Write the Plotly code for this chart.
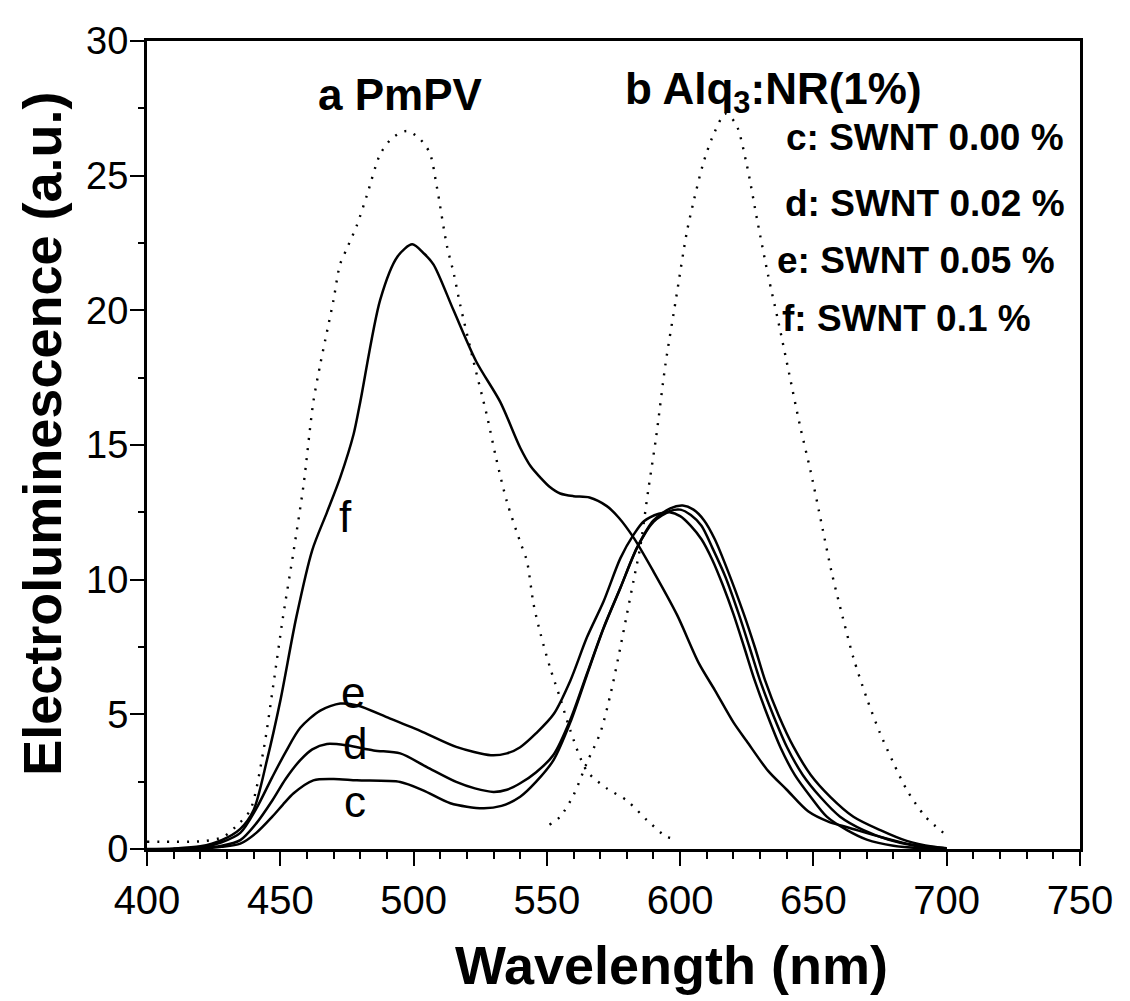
import plotly.graph_objects as go

# ---- data ----
a_x = [400, 405, 410, 416, 422, 428.6, 434, 438.7, 443.7, 447.4, 451, 455, 458.7, 462.4, 465, 467.5, 470, 472.4, 475, 478.7, 482.5, 487.5, 492, 497.4, 502, 506, 508.7, 512.5, 515, 517.5, 522.5, 527.5, 531, 535, 540, 542.5, 545, 547.6, 551.3, 555, 558.8, 565, 572.5, 580, 587.6, 595, 598]
a_y = [0.27, 0.27, 0.27, 0.27, 0.3, 0.45, 0.9, 1.44, 3.66, 6.1, 8.6, 11.06, 13.5, 16.6, 18.0, 19.2, 20.4, 21.7, 22.3, 23.15, 24.27, 25.8, 26.4, 26.66, 26.4, 25.86, 24.6, 22.4, 21.4, 20.2, 18.1, 16.1, 14.5, 12.9, 11.4, 10.7, 9.1, 8.0, 6.7, 5.6, 4.4, 2.9, 2.25, 1.8, 1.07, 0.45, 0.4]

b_x = [551, 555, 560, 565, 570, 574, 577.6, 580, 582.6, 585, 588, 591, 594.5, 598.4, 602.5, 605.2, 608.5, 612, 617, 621, 625, 629, 633, 637, 641, 645, 649, 653, 657, 661, 665, 670, 675, 680, 685, 692, 700]
b_y = [0.9, 1.2, 2.0, 3.2, 4.3, 5.8, 7.5, 8.7, 10.0, 11.2, 13.3, 15.3, 18.0, 20.4, 22.9, 24.1, 25.4, 26.4, 27.3, 26.9, 25.4, 23.3, 21.3, 19.5, 17.6, 15.7, 14.0, 12.1, 10.2, 8.6, 7.1, 5.6, 4.3, 3.2, 2.2, 1.2, 0.5]

c_x = [410, 420, 428, 435, 441, 447, 451, 455, 462.4, 470, 478.7, 495, 503.6, 513.8, 526, 533, 540, 546, 552.5, 558.8, 565, 571.3, 577.6, 583.8, 590, 596.3, 601, 605, 609, 613, 618, 623.9, 628, 631.9, 637, 642.6, 649, 656.4, 665, 675.1, 685, 695, 700]
c_y = [0.0, 0.02, 0.08, 0.2, 0.6, 1.2, 1.65, 2.07, 2.55, 2.6, 2.55, 2.49, 2.18, 1.7, 1.51, 1.6, 1.94, 2.5, 3.3, 4.7, 6.45, 8.2, 9.7, 11.18, 12.2, 12.65, 12.75, 12.6, 12.2, 11.5, 10.3, 8.72, 7.5, 6.25, 4.95, 3.78, 2.75, 1.93, 1.2, 0.7, 0.3, 0.08, 0.02]

d_x = [410, 420, 428, 435, 441, 447, 452, 457.5, 462, 467.5, 475, 485, 495, 505, 516, 523, 530, 535, 540, 546, 552.5, 558.8, 565, 571.3, 577.6, 583.8, 590, 596.3, 600, 604, 608, 612, 617, 622, 626, 630, 635, 640.1, 646, 652.6, 660, 668.8, 678, 688, 700]
d_y = [0.0, 0.03, 0.12, 0.33, 0.95, 1.8, 2.6, 3.3, 3.7, 3.9, 3.85, 3.66, 3.55, 3.04, 2.49, 2.25, 2.12, 2.2, 2.44, 2.85, 3.5, 4.8, 6.5, 8.22, 9.7, 11.18, 12.15, 12.55, 12.6, 12.4, 12.0, 11.2, 10.1, 8.72, 7.5, 6.25, 4.95, 3.78, 2.75, 1.93, 1.2, 0.7, 0.35, 0.12, 0.0]

e_x = [410, 420, 428, 435, 441, 447, 452, 457.5, 465, 472.5, 479, 491, 503.5, 516, 529, 535, 540, 546, 552.5, 558.8, 565, 571.3, 577.6, 582.6, 586.4, 592, 596, 600, 604, 608, 612, 616, 620, 624, 628, 633, 637.6, 643, 649, 655, 662.6, 670, 680, 690, 700]
e_y = [0.0, 0.05, 0.25, 0.6, 1.5, 2.67, 3.6, 4.5, 5.14, 5.4, 5.33, 4.85, 4.34, 3.79, 3.48, 3.55, 3.78, 4.3, 5.0, 6.25, 7.85, 9.2, 10.8, 11.68, 12.17, 12.45, 12.5, 12.36, 12.0, 11.5, 10.75, 9.8, 8.72, 7.5, 6.25, 4.9, 3.78, 2.75, 1.93, 1.2, 0.7, 0.35, 0.12, 0.03, 0.0]

f_x = [400, 410, 420, 428, 435, 440, 445, 450, 456, 462, 467.5, 472.5, 477.5, 480, 487.5, 494, 499.5, 504, 507.5, 515, 523.5, 532.5, 540, 544, 547.5, 551, 555, 560, 566, 572.5, 577, 582.6, 590, 598.8, 607, 613, 620, 625, 633, 640, 648, 656, 663, 675, 685, 695, 700]
f_y = [0.0, 0.02, 0.1, 0.33, 0.75, 1.45, 3.3, 5.5, 8.6, 11.1, 12.5, 13.8, 15.4, 16.6, 20.4, 22.0, 22.45, 22.1, 21.7, 20.0, 18.1, 16.6, 14.9, 14.2, 13.8, 13.45, 13.2, 13.1, 13.05, 12.73, 12.3, 11.55, 10.3, 8.7, 6.9, 5.9, 4.7, 4.0, 2.9, 2.2, 1.4, 1.0, 0.8, 0.45, 0.2, 0.07, 0.03]

x_ticks = [400, 450, 500, 550, 600, 650, 700, 750]
y_ticks = [0, 5, 10, 15, 20, 25, 30]

curve_labels = ["f", "e", "d", "c"]
curve_label_x = [474.3, 477.3, 478, 478]
curve_label_y = [12.36, 5.8, 3.92, 1.78]

legend_texts = ["c: SWNT 0.00 %", "d: SWNT 0.02 %", "e: SWNT 0.05 %", "f: SWNT 0.1 %"]
legend_x = [639.1, 638.4, 635.7, 637.5]
legend_y = [26.4, 23.97, 21.86, 19.68]

FONT = "Liberation Sans, Arial, sans-serif"

fig = go.Figure()
dotted = dict(color="black", width=2.4, dash="2px,8px")
solid = dict(color="black", width=2.5)
for xs, ys, name in [(a_x, a_y, "a"), (b_x, b_y, "b")]:
    fig.add_trace(go.Scatter(x=xs, y=ys, mode="lines", name=name,
                             line=dict(**dotted, shape="spline", smoothing=0.8)))
for xs, ys, name in [(c_x, c_y, "c"), (d_x, d_y, "d"), (e_x, e_y, "e"), (f_x, f_y, "f")]:
    fig.add_trace(go.Scatter(x=xs, y=ys, mode="lines", name=name,
                             line=dict(**solid, shape="spline", smoothing=0.8)))

ann = []
for t, x, y in zip(curve_labels, curve_label_x, curve_label_y):
    ann.append(dict(x=x, y=y, xref="x", yref="y", text=t, showarrow=False,
                    font=dict(family=FONT, size=44, color="black"),
                    xanchor="center", yanchor="middle"))
for t, x, y in zip(legend_texts, legend_x, legend_y):
    ann.append(dict(x=x, y=y, xref="x", yref="y", text="<b>" + t + "</b>", showarrow=False,
                    font=dict(family=FONT, size=37, color="black"),
                    xanchor="left", yanchor="middle"))
ann.append(dict(x=495, y=28.0, xref="x", yref="y", text="<b>a PmPV</b>", showarrow=False,
                font=dict(family=FONT, size=44, color="black"), xanchor="center", yanchor="middle"))
ann.append(dict(x=635, y=28.1, xref="x", yref="y", text="<b>b Alq<sub>3</sub>:NR(1%)</b>", showarrow=False,
                font=dict(family=FONT, size=44, color="black"), xanchor="center", yanchor="middle"))
ann.append(dict(x=0.562, y=-0.143, xref="paper", yref="paper", text="<b>Wavelength (nm)</b>",
                showarrow=False, font=dict(family=FONT, size=54, color="black"),
                xanchor="center", yanchor="middle"))
ann.append(dict(x=-0.1125, y=0.514, xref="paper", yref="paper", text="<b>Electroluminescence (a.u.)</b>",
                showarrow=False, textangle=-90, font=dict(family=FONT, size=54, color="black"),
                xanchor="center", yanchor="middle"))

axis_common = dict(showline=True, linecolor="black", linewidth=3, mirror=True,
                   ticks="outside", ticklen=14, tickwidth=2, tickcolor="black",
                   showgrid=False, zeroline=False)
fig.update_xaxes(range=[400, 750], tickvals=x_ticks, ticktext=[str(v) for v in x_ticks],
                 tickfont=dict(family=FONT, size=40, color="black"),
                 minor=dict(dtick=10, ticks="outside", ticklen=7, tickwidth=2, tickcolor="black", showgrid=False),
                 **axis_common)
fig.update_yaxes(range=[0, 30], tickvals=y_ticks, ticktext=[str(v) for v in y_ticks],
                 tickfont=dict(family=FONT, size=38, color="black"), ticklabelstandoff=-6,
                 minor=dict(dtick=2.5, ticks="outside", ticklen=6, tickwidth=2, tickcolor="black", showgrid=False),
                 **axis_common)
# the page body adds an 8px margin, so the figure is 8px smaller to fit the 1130x1001 window
fig.update_layout(width=1122, height=993, margin=dict(l=139, r=50, t=30, b=152),
                  plot_bgcolor="white", paper_bgcolor="white", showlegend=False,
                  annotations=ann)
fig.write_html("out.html")
